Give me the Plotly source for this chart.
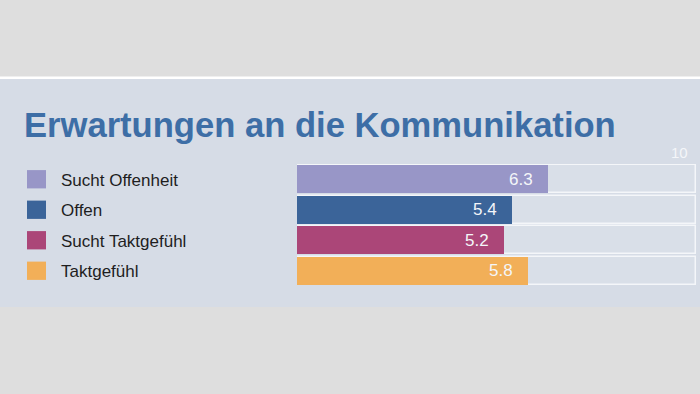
import plotly.graph_objects as go

categories = ["Sucht Offenheit", "Offen", "Sucht Taktgefühl", "Taktgefühl"]
values = [6.3, 5.4, 5.2, 5.8]
colors = ["#9896c7", "#3b6499", "#ab4678", "#f2af58"]
max_value = 10
title = "Erwartungen an die Kommunikation"

W, H = 700, 394
def py(p):
    return 1 - p / H

fig = go.Figure()

# track bars
fig.add_trace(go.Bar(
    y=categories, x=[max_value] * len(categories), orientation="h",
    marker=dict(color="#d9dfe8", line=dict(color="#f4f6f9", width=1.5)),
    width=0.92, hoverinfo="skip", showlegend=False,
))
# value bars
fig.add_trace(go.Bar(
    y=categories, x=values, orientation="h",
    marker=dict(color=colors, line=dict(width=0)),
    width=0.92, showlegend=False,
))

shapes = [
    dict(type="rect", xref="paper", yref="paper", x0=0, x1=1, y0=py(79), y1=py(76.5),
         fillcolor="#ffffff", line=dict(width=0), layer="below"),
    dict(type="rect", xref="paper", yref="paper", x0=0, x1=1, y0=py(307), y1=py(79),
         fillcolor="#d6dce6", line=dict(width=0), layer="below"),
]
annotations = [
    dict(text=f"<b>{title}</b>", xref="paper", yref="paper", x=22 / W, y=py(125),
         xanchor="left", yanchor="middle", showarrow=False,
         font=dict(family="Liberation Sans, Arial", size=34.6, color="#3d6ea6")),
    dict(text=str(max_value), xref="x", yref="paper", x=max_value, y=py(152),
         xanchor="right", yanchor="middle", xshift=-6, showarrow=False,
         font=dict(family="Liberation Sans, Arial", size=15, color="#f4f6f9")),
]
for i, (cat, val, col) in enumerate(zip(categories, values, colors)):
    shapes.append(dict(type="rect", xref="paper", yref="y", x0=27 / W, x1=46 / W,
                       y0=i - 0.3, y1=i + 0.3, fillcolor=col, line=dict(width=0)))
    annotations.append(dict(text=cat, xref="paper", yref="y", x=59 / W, y=cat,
                            xanchor="left", yanchor="middle", showarrow=False, yshift=-1,
                            font=dict(family="Liberation Sans, Arial", size=17, color="#1e1e1e")))
    annotations.append(dict(text=f"{val:.1f}", xref="x", yref="y", x=val, y=cat,
                            xanchor="right", yanchor="middle", xshift=-13, showarrow=False,
                            font=dict(family="Liberation Sans, Arial", size=17, color="#f4f6f9")))

fig.update_layout(
    width=W, height=H, margin=dict(l=0, r=0, t=0, b=0),
    paper_bgcolor="#dedede", plot_bgcolor="rgba(0,0,0,0)",
    barmode="overlay", bargap=0,
    xaxis=dict(domain=[297 / W, 696 / W], range=[0, max_value], visible=False, fixedrange=True),
    yaxis=dict(domain=[py(286), py(164)], autorange="reversed", visible=False,
               type="category", fixedrange=True),
    shapes=shapes, annotations=annotations,
)

fig.write_html("out.html", config={"displayModeBar": False},
               post_script="document.body.style.margin='0';document.body.style.padding='0';")
